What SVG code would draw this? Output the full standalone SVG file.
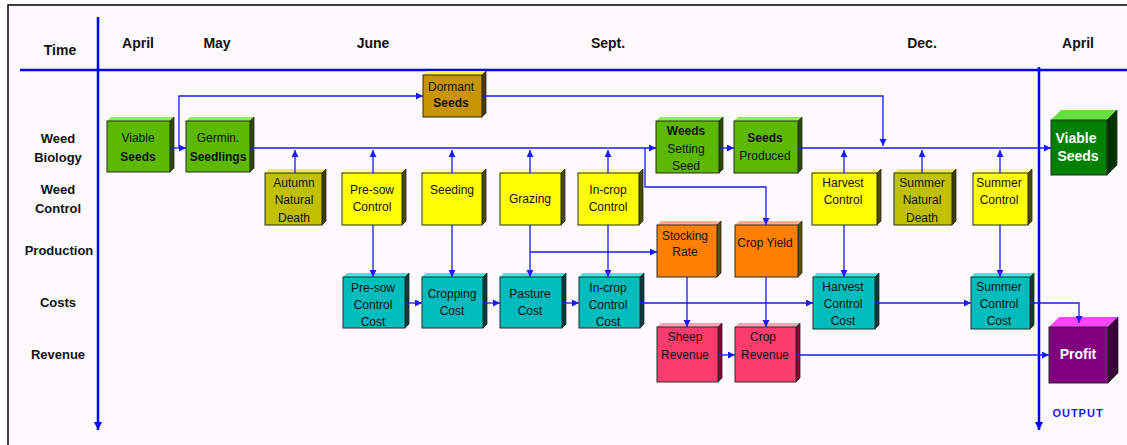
<svg xmlns="http://www.w3.org/2000/svg" width="1127" height="445" viewBox="0 0 1127 445">
<defs>
<style>
.fr{stroke:#2a2a2a;stroke-width:1}
.sd{stroke:#2a2a2a;stroke-width:0.8}
.g .fr{fill:#5cb800}.g .tp{fill:#8cf048}.g .sd{fill:#2e4a00}
.ol .fr{fill:#c0c000}.ol .tp{fill:#ecec5a}.ol .sd{fill:#3e3e00}
.y .fr{fill:#ffff00}.y .tp{fill:#ffff9a}.y .sd{fill:#4a4a00}
.cy .fr{fill:#00bcbc}.cy .tp{fill:#44e4e4}.cy .sd{fill:#003c3c}
.or .fr{fill:#ff8000}.or .tp{fill:#ffb088}.or .sd{fill:#5a5200}
.pk .fr{fill:#ff3c6e}.pk .tp{fill:#ffa0b4}.pk .sd{fill:#8a0030}
.dm .fr{fill:#c89400}.dm .tp{fill:#ffff33}.dm .sd{fill:#4a3a00}
.vg .fr{fill:#008000}.vg .tp{fill:#66e040}.vg .sd{fill:#003300}
.pf .fr{fill:#800080}.pf .tp{fill:#ff44ff}.pf .sd{fill:#3a003a}
.t{font-family:"Liberation Sans",Arial,sans-serif;font-size:12px;fill:#111;text-anchor:middle}
.b{font-weight:bold}
.w{font-family:"Liberation Sans",Arial,sans-serif;font-size:14px;font-weight:bold;fill:#fff;text-anchor:middle}
.h{font-family:"Liberation Sans",Arial,sans-serif;font-size:14px;font-weight:bold;fill:#111;text-anchor:middle}
.r{font-family:"Liberation Sans",Arial,sans-serif;font-size:13px;font-weight:bold;fill:#111;text-anchor:middle}
.c{fill:none;stroke:#1a1aff;stroke-width:1.3;marker-end:url(#ah)}
.ax{fill:none;stroke:#0000ff;stroke-width:2.5}
</style>
<marker id="ah" markerUnits="userSpaceOnUse" markerWidth="8" markerHeight="8" refX="7" refY="3.5" orient="auto"><path d="M0,0 L7,3.5 L0,7 z" fill="#1a1aff"/></marker>
<marker id="ax" markerUnits="userSpaceOnUse" markerWidth="10" markerHeight="10" refX="8" refY="4" orient="auto"><path d="M0,0 L8,4 L0,8 z" fill="#0000ff"/></marker>
</defs>
<rect x="0" y="0" width="1127" height="445" fill="#ffffff"/>
<rect x="8" y="5" width="1130" height="450" fill="#fdfafd" stroke="#000" stroke-width="1.5"/>
<g id="axes">
<path class="ax" d="M98,17 V430" marker-end="url(#ax)"/>
<path class="ax" d="M20,70 H1127"/>
<path class="ax" d="M1039,67 V430" marker-end="url(#ax)"/>
</g>
<g id="labels">
<text class="h" x="60" y="55">Time</text>
<text class="h" x="138" y="48">April</text>
<text class="h" x="217" y="48">May</text>
<text class="h" x="373" y="48">June</text>
<text class="h" x="608" y="48">Sept.</text>
<text class="h" x="922" y="48">Dec.</text>
<text class="h" x="1078" y="48">April</text>
<text class="r" x="58" y="143">Weed</text>
<text class="r" x="58" y="162">Biology</text>
<text class="r" x="58" y="194">Weed</text>
<text class="r" x="58" y="213">Control</text>
<text class="r" x="59" y="255">Production</text>
<text class="r" x="58" y="307">Costs</text>
<text class="r" x="58" y="359">Revenue</text>
<text x="1078" y="417" font-family="Liberation Sans,Arial,sans-serif" font-size="11" font-weight="bold" fill="#1a1aff" text-anchor="middle" letter-spacing="1">OUTPUT</text>
</g>
<g id="viable-seeds" class="g">
<polygon class="tp" points="107,121 111,117 174,117 170,121"/><polygon class="sd" points="170,121 174,117 174,168 170,172"/>
<rect class="fr" x="107" y="121" width="63" height="51"/>
<text class="t" x="138" y="142">Viable</text><text class="t b" x="138" y="161">Seeds</text>
</g>
<g id="germin-seedlings" class="g">
<polygon class="tp" points="186,121 190,117 254,117 250,121"/><polygon class="sd" points="250,121 254,117 254,168 250,172"/>
<rect class="fr" x="186" y="121" width="64" height="51"/>
<text class="t" x="218" y="142">Germin.</text><text class="t b" x="218" y="161">Seedlings</text>
</g>
<g id="dormant-seeds" class="dm">
<polygon class="tp" points="423,75 427,71 486,71 482,75"/><polygon class="sd" points="482,75 486,71 486,113 482,117"/>
<rect class="fr" x="423" y="75" width="59" height="42"/>
<text class="t" x="451" y="91">Dormant</text><text class="t b" x="451" y="107">Seeds</text>
</g>
<g id="weeds-setting-seed" class="g">
<polygon class="tp" points="656,121 660,117 723,117 719,121"/><polygon class="sd" points="719,121 723,117 723,169 719,173"/>
<rect class="fr" x="656" y="121" width="63" height="52"/>
<text class="t b" x="686" y="135">Weeds</text><text class="t" x="686" y="153">Setting</text><text class="t" x="686" y="170">Seed</text>
</g>
<g id="seeds-produced" class="g">
<polygon class="tp" points="734,121 738,117 802,117 798,121"/><polygon class="sd" points="798,121 802,117 802,169 798,173"/>
<rect class="fr" x="734" y="121" width="64" height="52"/>
<text class="t b" x="765" y="142">Seeds</text><text class="t" x="765" y="160">Produced</text>
</g>
<g id="autumn-natural-death" class="ol">
<polygon class="tp" points="265,173 269,169 326,169 322,173"/><polygon class="sd" points="322,173 326,169 326,221 322,225"/>
<rect class="fr" x="265" y="173" width="57" height="52"/>
<text class="t" x="294" y="187">Autumn</text><text class="t" x="294" y="204">Natural</text><text class="t" x="294" y="222">Death</text>
</g>
<g id="pre-sow-control" class="y">
<polygon class="tp" points="342,173 346,169 406,169 402,173"/><polygon class="sd" points="402,173 406,169 406,221 402,225"/>
<rect class="fr" x="342" y="173" width="60" height="52"/>
<text class="t" x="372" y="194">Pre-sow</text><text class="t" x="372" y="211">Control</text>
</g>
<g id="seeding" class="y">
<polygon class="tp" points="422,173 426,169 486,169 482,173"/><polygon class="sd" points="482,173 486,169 486,221 482,225"/>
<rect class="fr" x="422" y="173" width="60" height="52"/>
<text class="t" x="452" y="194">Seeding</text>
</g>
<g id="grazing" class="y">
<polygon class="tp" points="500,173 504,169 565,169 561,173"/><polygon class="sd" points="561,173 565,169 565,221 561,225"/>
<rect class="fr" x="500" y="173" width="61" height="52"/>
<text class="t" x="530" y="203">Grazing</text>
</g>
<g id="in-crop-control" class="y">
<polygon class="tp" points="578,173 582,169 643,169 639,173"/><polygon class="sd" points="639,173 643,169 643,221 639,225"/>
<rect class="fr" x="578" y="173" width="61" height="52"/>
<text class="t" x="608" y="194">In-crop</text><text class="t" x="608" y="211">Control</text>
</g>
<g id="harvest-control" class="y">
<polygon class="tp" points="812,173 816,169 881,169 877,173"/><polygon class="sd" points="877,173 881,169 881,221 877,225"/>
<rect class="fr" x="812" y="173" width="65" height="52"/>
<text class="t" x="843" y="187">Harvest</text><text class="t" x="843" y="204">Control</text>
</g>
<g id="summer-natural-death" class="ol">
<polygon class="tp" points="894,173 898,169 956,169 952,173"/><polygon class="sd" points="952,173 956,169 956,221 952,225"/>
<rect class="fr" x="894" y="173" width="58" height="52"/>
<text class="t" x="922" y="187">Summer</text><text class="t" x="922" y="204">Natural</text><text class="t" x="922" y="222">Death</text>
</g>
<g id="summer-control" class="y">
<polygon class="tp" points="973,173 977,169 1032,169 1028,173"/><polygon class="sd" points="1028,173 1032,169 1032,221 1028,225"/>
<rect class="fr" x="973" y="173" width="55" height="52"/>
<text class="t" x="999" y="187">Summer</text><text class="t" x="999" y="204">Control</text>
</g>
<g id="stocking-rate" class="or">
<polygon class="tp" points="657,225 661,221 721,221 717,225"/><polygon class="sd" points="717,225 721,221 721,273 717,277"/>
<rect class="fr" x="657" y="225" width="60" height="52"/>
<text class="t" x="685" y="240">Stocking</text><text class="t" x="685" y="256">Rate</text>
</g>
<g id="crop-yield" class="or">
<polygon class="tp" points="735,225 739,221 802,221 798,225"/><polygon class="sd" points="798,225 802,221 802,273 798,277"/>
<rect class="fr" x="735" y="225" width="63" height="52"/>
<text class="t" x="765" y="247">Crop Yield</text>
</g>
<g id="pre-sow-control-cost" class="cy">
<polygon class="tp" points="343,277 347,273 409,273 405,277"/><polygon class="sd" points="405,277 409,273 409,324 405,328"/>
<rect class="fr" x="343" y="277" width="62" height="51"/>
<text class="t" x="373" y="292">Pre-sow</text><text class="t" x="373" y="309">Control</text><text class="t" x="373" y="326">Cost</text>
</g>
<g id="cropping-cost" class="cy">
<polygon class="tp" points="422,277 426,273 487,273 483,277"/><polygon class="sd" points="483,277 487,273 487,324 483,328"/>
<rect class="fr" x="422" y="277" width="61" height="51"/>
<text class="t" x="452" y="298">Cropping</text><text class="t" x="452" y="315">Cost</text>
</g>
<g id="pasture-cost" class="cy">
<polygon class="tp" points="500,277 504,273 566,273 562,277"/><polygon class="sd" points="562,277 566,273 566,324 562,328"/>
<rect class="fr" x="500" y="277" width="62" height="51"/>
<text class="t" x="530" y="298">Pasture</text><text class="t" x="530" y="315">Cost</text>
</g>
<g id="in-crop-control-cost" class="cy">
<polygon class="tp" points="579,277 583,273 644,273 640,277"/><polygon class="sd" points="640,277 644,273 644,324 640,328"/>
<rect class="fr" x="579" y="277" width="61" height="51"/>
<text class="t" x="608" y="292">In-crop</text><text class="t" x="608" y="309">Control</text><text class="t" x="608" y="326">Cost</text>
</g>
<g id="harvest-control-cost" class="cy">
<polygon class="tp" points="813,277 817,273 879,273 875,277"/><polygon class="sd" points="875,277 879,273 879,325 875,329"/>
<rect class="fr" x="813" y="277" width="62" height="52"/>
<text class="t" x="843" y="291">Harvest</text><text class="t" x="843" y="308">Control</text><text class="t" x="843" y="325">Cost</text>
</g>
<g id="summer-control-cost" class="cy">
<polygon class="tp" points="971,277 975,273 1034,273 1030,277"/><polygon class="sd" points="1030,277 1034,273 1034,325 1030,329"/>
<rect class="fr" x="971" y="277" width="59" height="52"/>
<text class="t" x="999" y="291">Summer</text><text class="t" x="999" y="308">Control</text><text class="t" x="999" y="325">Cost</text>
</g>
<g id="sheep-revenue" class="pk">
<polygon class="tp" points="657,327 661,323 722,323 718,327"/><polygon class="sd" points="718,327 722,323 722,378 718,382"/>
<rect class="fr" x="657" y="327" width="61" height="55"/>
<text class="t" x="685" y="341">Sheep</text><text class="t" x="685" y="359">Revenue</text>
</g>
<g id="crop-revenue" class="pk">
<polygon class="tp" points="735,327 739,323 800,323 796,327"/><polygon class="sd" points="796,327 800,323 800,378 796,382"/>
<rect class="fr" x="735" y="327" width="61" height="55"/>
<text class="t" x="763" y="341">Crop</text><text class="t" x="765" y="359">Revenue</text>
</g>
<g id="viable-seeds-output" class="vg">
<polygon class="tp" points="1051,120 1061,110 1117,110 1107,120"/><polygon class="sd" points="1107,120 1117,110 1117,165 1107,175"/>
<rect class="fr" x="1051" y="120" width="56" height="55"/>
<text class="w" x="1076" y="143">Viable</text><text class="w" x="1078" y="161">Seeds</text>
</g>
<g id="profit" class="pf">
<polygon class="tp" points="1049,327 1059,317 1118,317 1108,327"/><polygon class="sd" points="1108,327 1118,317 1118,373 1108,383"/>
<rect class="fr" x="1049" y="327" width="59" height="56"/>
<text class="w" x="1078" y="359">Profit</text>
</g>
<g id="connectors">
<path class="c" d="M170,148 H186"/>
<path class="c" d="M179,148 V96 H423"/>
<path class="c" d="M482,96 H883 V146"/>
<path class="c" d="M250,148 H656"/>
<path class="c" d="M645,148 V187 H766 V225"/>
<path class="c" d="M719,148 H734"/>
<path class="c" d="M798,148 H1051"/>
<path class="c" d="M295,173 V150"/>
<path class="c" d="M373,173 V150"/>
<path class="c" d="M452,173 V150"/>
<path class="c" d="M530,173 V150"/>
<path class="c" d="M608,173 V150"/>
<path class="c" d="M844,173 V150"/>
<path class="c" d="M922,173 V150"/>
<path class="c" d="M1000,173 V150"/>
<path class="c" d="M373,225 V277"/>
<path class="c" d="M452,225 V277"/>
<path class="c" d="M530,225 V277"/>
<path class="c" d="M608,225 V277"/>
<path class="c" d="M844,225 V277"/>
<path class="c" d="M1000,225 V277"/>
<path class="c" d="M530,252 H657"/>
<path class="c" d="M405,303 H422"/>
<path class="c" d="M483,303 H500"/>
<path class="c" d="M562,303 H579"/>
<path class="c" d="M640,303 H813"/>
<path class="c" d="M875,303 H971"/>
<path class="c" d="M1030,303 H1079 V323"/>
<path class="c" d="M687,277 V327"/>
<path class="c" d="M766,277 V327"/>
<path class="c" d="M718,355 H735"/>
<path class="c" d="M796,355 H1049"/>
</g>
</svg>
